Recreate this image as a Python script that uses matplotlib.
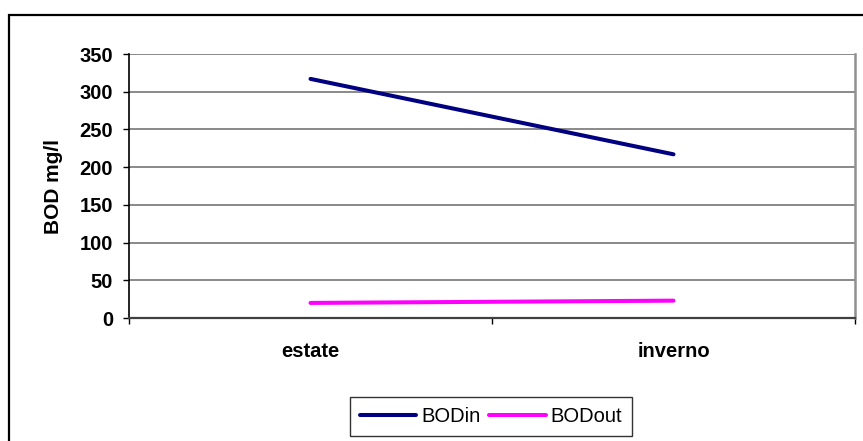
import matplotlib
matplotlib.use("Agg")
import matplotlib.pyplot as plt
from matplotlib.patches import Rectangle

# BOD concentrations (mg/l) per season
seasons = ["estate", "inverno"]
bod_in = [317, 217]
bod_out = [20, 23]

plt.rcParams['font.family'] = ['Liberation Sans', 'DejaVu Sans']

fig = plt.figure(figsize=(8.63, 4.41), dpi=100)
ax = fig.add_axes([129 / 863, 1 - 318 / 441, (855 - 129) / 863, (318 - 54) / 441])

x = list(range(len(seasons)))
ax.plot(x, bod_in, color='#000080', lw=2.9, solid_capstyle='round', label='BODin')
ax.plot(x, bod_out, color='#FF00FF', lw=2.9, solid_capstyle='round', label='BODout')

ax.set_xlim(-0.5, len(seasons) - 0.5)
ax.set_ylim(0, 350)
ax.set_yticks(range(0, 351, 50))

# category boundaries get the tick marks, labels sit between them
ax.set_xticks([i - 0.5 for i in range(len(seasons) + 1)])
ax.set_xticklabels([])
ax.set_xticks(x, minor=True)
ax.set_xticklabels(seasons, minor=True, fontsize=14.5, fontweight='bold')
ax.tick_params(axis='x', which='major', direction='out', length=4.5, width=1, color='black')
ax.tick_params(axis='x', which='minor', length=0, pad=17)
ax.tick_params(axis='y', direction='out', length=4.5, width=1, color='black', pad=7,
               labelsize=14.5)
for lab in ax.get_yticklabels():
    lab.set_fontweight('bold')

ax.yaxis.grid(True, color='#808080', lw=1.3)
ax.set_axisbelow(True)

ax.spines['top'].set_visible(False)
ax.spines['left'].set_color('black')
ax.spines['left'].set_linewidth(1.2)
ax.spines['bottom'].set_color('#404040')
ax.spines['bottom'].set_linewidth(1.6)
ax.spines['right'].set_color('#909090')
ax.spines['right'].set_linewidth(1.8)

ax.set_ylabel('BOD mg/l', fontsize=15, fontweight='bold', labelpad=12)

leg = fig.legend(loc='center', bbox_to_anchor=(491 / 863, 1 - 416.5 / 441), ncol=2,
                 fontsize=14.5, frameon=True, fancybox=False, edgecolor='black',
                 handlelength=2.8, handletextpad=0.25, columnspacing=0.45,
                 borderpad=0.5)
leg.get_frame().set_linewidth(1.0)

# chart area border (runs past the right and bottom edges)
fig.patches.append(Rectangle((8.5 / 863, -0.1), 1.2, 1.1 - 14.5 / 441 + 0.0,
                             transform=fig.transFigure, fill=False,
                             edgecolor='black', lw=1.6, clip_on=False))

fig.savefig('out.png', dpi=100)
